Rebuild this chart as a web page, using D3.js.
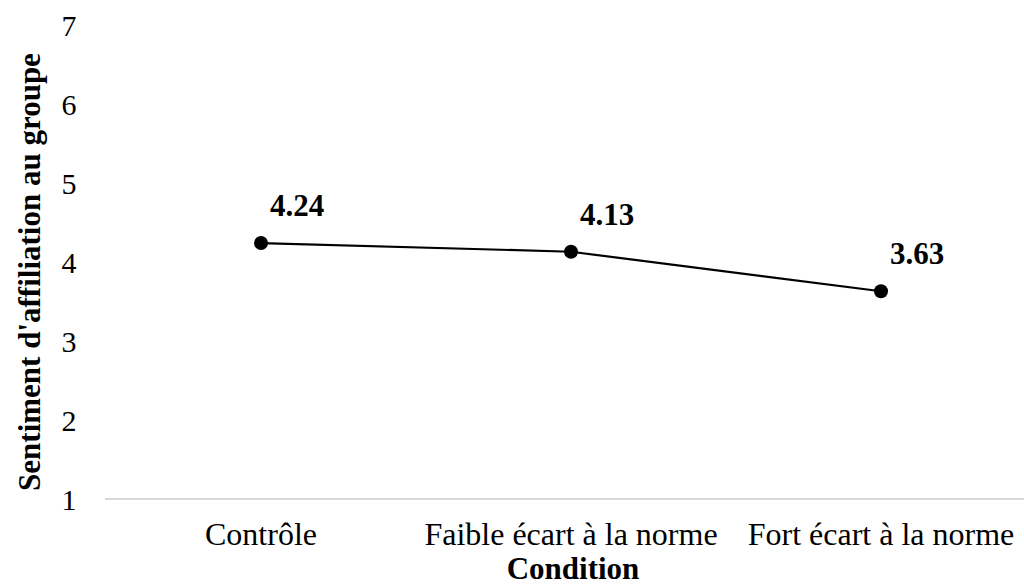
<html>

<body>
    <svg id='viz'></svg>
</body>
<style>
    body {
        margin: 0;
        background: #fff;
    }

    svg {
        display: block;
    }

    text {
        font-family: "Times New Roman", "Liberation Serif", "DejaVu Serif", serif;
        fill: #000;
    }
</style>
<script src='https://d3js.org/d3.v7.min.js'></script>
<script>
    var width = 1024;
    var height = 587;

    // data
    var categories = ["Contrôle", "Faible écart à la norme", "Fort écart à la norme"];
    var values = [4.24, 4.13, 3.63];
    var yTicks = [1, 2, 3, 4, 5, 6, 7];

    var svg = d3.select("#viz").attr("width", width).attr("height", height);

    var x = d3.scalePoint().domain(categories).range([261, 881]);
    var y = d3.scaleLinear().domain([1, 7]).range([499, 25]);

    // baseline
    svg.append("line")
        .attr("x1", 105).attr("x2", 1024)
        .attr("y1", y(1)).attr("y2", y(1))
        .attr("stroke", "#d9d9d9")
        .attr("stroke-width", 2);

    // y tick labels
    svg.append("g").selectAll("text")
        .data(yTicks)
        .enter().append("text")
        .attr("x", 69)
        .attr("y", function (d) { return y(d); })
        .attr("dy", "0.35em")
        .attr("text-anchor", "middle")
        .style("font-size", "30px")
        .text(function (d) { return d; });

    // x category labels
    svg.append("g").selectAll("text")
        .data(categories)
        .enter().append("text")
        .attr("x", function (d) { return x(d); })
        .attr("y", 545)
        .attr("text-anchor", "middle")
        .style("font-size", "32px")
        .text(function (d) { return d; });

    // axis titles
    svg.append("text")
        .attr("x", 573)
        .attr("y", 579)
        .attr("text-anchor", "middle")
        .style("font-size", "31px")
        .style("font-weight", "bold")
        .text("Condition");

    svg.append("text")
        .attr("transform", "translate(40,272) rotate(-90)")
        .attr("text-anchor", "middle")
        .style("font-size", "31px")
        .style("font-weight", "bold")
        .text("Sentiment d'affiliation au groupe");

    // line + markers
    var line = d3.line()
        .x(function (d, i) { return x(categories[i]); })
        .y(function (d) { return y(d); });

    svg.append("path")
        .datum(values)
        .attr("d", line)
        .attr("fill", "none")
        .attr("stroke", "#000")
        .attr("stroke-width", 2.2);

    svg.append("g").selectAll("circle")
        .data(values)
        .enter().append("circle")
        .attr("cx", function (d, i) { return x(categories[i]); })
        .attr("cy", function (d) { return y(d); })
        .attr("r", 7)
        .attr("fill", "#000");

    // data labels
    svg.append("g").selectAll("text")
        .data(values)
        .enter().append("text")
        .attr("x", function (d, i) { return x(categories[i]) + 9; })
        .attr("y", function (d) { return y(d) - 27; })
        .style("font-size", "31px")
        .style("font-weight", "bold")
        .text(function (d) { return d.toFixed(2); });
</script>

</html>
